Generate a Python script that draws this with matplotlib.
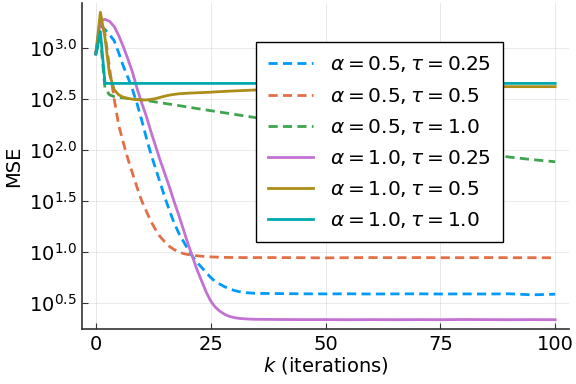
import matplotlib
matplotlib.use("Agg")
import matplotlib.pyplot as plt
import numpy as np

# iteration index (dense early, sparse in the flat tail)
k_vals = list(range(0, 36)) + [40, 45, 50, 55, 60, 65, 70, 75, 80, 85, 90, 95, 100]

# log10(MSE)
a05_t025 = [2.94, 3.22, 3.18, 3.13, 3.07, 2.95, 2.82, 2.71, 2.59, 2.45,
            2.29, 2.12, 1.96, 1.82, 1.68, 1.54, 1.41, 1.29, 1.19, 1.11,
            1.03, 0.96, 0.90, 0.85, 0.80, 0.75, 0.71, 0.685, 0.66, 0.64,
            0.625, 0.613, 0.605, 0.60, 0.597, 0.594,
            0.592, 0.590, 0.589, 0.590, 0.588, 0.589, 0.590, 0.588, 0.589, 0.588, 0.590, 0.580, 0.586]
a05_t05 = [2.94, 3.28, 3.14, 2.80, 2.50, 2.24, 2.07, 1.91, 1.77, 1.63,
           1.50, 1.40, 1.30, 1.22, 1.15, 1.10, 1.055, 1.025, 1.00, 0.985,
           0.975, 0.968, 0.963, 0.958, 0.955, 0.952, 0.95, 0.948, 0.947, 0.946,
           0.946, 0.946, 0.945, 0.945, 0.945, 0.945,
           0.945, 0.944, 0.942, 0.944, 0.945, 0.944, 0.945, 0.944, 0.944, 0.945, 0.944, 0.944, 0.943]
a05_t10 = [2.94, 3.10, 2.60, 2.54, 2.522, 2.515, 2.51, 2.505, 2.50, 2.495,
           2.49, 2.485, 2.478, 2.47, 2.463, 2.456, 2.449, 2.442, 2.435, 2.428,
           2.42, 2.413, 2.406, 2.399, 2.392, 2.385, 2.378, 2.371, 2.364, 2.357,
           2.350, 2.343, 2.336, 2.329, 2.322, 2.315,
           2.28, 2.245, 2.21, 2.175, 2.14, 2.105, 2.07, 2.035, 2.00, 1.965, 1.93, 1.905, 1.884]
a10_t025 = [2.94, 3.27, 3.28, 3.26, 3.21, 3.12, 3.01, 2.89, 2.76, 2.60,
            2.46, 2.33, 2.18, 2.04, 1.90, 1.77, 1.64, 1.50, 1.37, 1.23,
            1.09, 0.96, 0.83, 0.72, 0.61, 0.52, 0.46, 0.42, 0.39, 0.37,
            0.358, 0.350, 0.346, 0.343, 0.341, 0.340,
            0.338, 0.337, 0.337, 0.336, 0.337, 0.336, 0.337, 0.336, 0.338, 0.337, 0.336, 0.337, 0.336]
a10_t05 = [2.94, 3.35, 3.10, 2.74, 2.59, 2.54, 2.516, 2.505, 2.497, 2.493,
           2.49, 2.49, 2.495, 2.503, 2.515, 2.527, 2.537, 2.544, 2.55, 2.553,
           2.556, 2.558, 2.56, 2.562, 2.564, 2.566, 2.569, 2.571, 2.574, 2.576,
           2.578, 2.580, 2.582, 2.584, 2.586, 2.588,
           2.595, 2.60, 2.605, 2.609, 2.612, 2.615, 2.617, 2.618, 2.619, 2.62, 2.62, 2.62, 2.62]
a10_t10 = [2.94, 3.16, 2.652, 2.652, 2.652, 2.652, 2.652, 2.652, 2.652, 2.652,
           2.652, 2.652, 2.652, 2.652, 2.652, 2.652, 2.652, 2.652, 2.652, 2.652,
           2.652, 2.652, 2.652, 2.652, 2.652, 2.652, 2.652, 2.652, 2.652, 2.652,
           2.652, 2.652, 2.652, 2.652, 2.652, 2.652,
           2.652, 2.652, 2.652, 2.652, 2.652, 2.652, 2.652, 2.652, 2.652, 2.652, 2.652, 2.652, 2.652]

series = [
    (a05_t025, r"$\alpha = 0.5, \tau = 0.25$", "#009AFA", "dash"),
    (a05_t05, r"$\alpha = 0.5, \tau = 0.5$", "#E36F47", "dash"),
    (a05_t10, r"$\alpha = 0.5, \tau = 1.0$", "#3EA44E", "dash"),
    (a10_t025, r"$\alpha = 1.0, \tau = 0.25$", "#C371D2", "solid"),
    (a10_t05, r"$\alpha = 1.0, \tau = 0.5$", "#AC8D18", "solid"),
    (a10_t10, r"$\alpha = 1.0, \tau = 1.0$", "#00A9AD", "solid"),
]

ytick_exps = [0.5, 1.0, 1.5, 2.0, 2.5, 3.0]
ytick_labels = [r"$10^{0.5}$", r"$10^{1.0}$", r"$10^{1.5}$", r"$10^{2.0}$", r"$10^{2.5}$", r"$10^{3.0}$"]
xticks = [0, 25, 50, 75, 100]

plt.rcParams["font.family"] = ["DejaVu Sans"]
plt.rcParams["mathtext.fontset"] = "dejavusans"

fig = plt.figure(figsize=(5.76, 3.84), dpi=100)
ax = fig.add_axes([82/576, 1-329/384, (569-82)/576, (329-3)/384])

for vals, lab, col, ls in series:
    y = [10 ** v for v in vals]
    if ls == "dash":
        ax.plot(k_vals, y, color=col, lw=2.0, linestyle=(0, (3.3, 1.9)), label=lab)
    else:
        ax.plot(k_vals, y, color=col, lw=2.0, label=lab)

ax.set_yscale("log")
ax.set_xlim(-3, 103)
ax.set_ylim(10 ** 0.245, 10 ** 3.44)
ax.yaxis.set_major_locator(matplotlib.ticker.FixedLocator([10 ** e for e in ytick_exps]))
ax.yaxis.set_major_formatter(matplotlib.ticker.FixedFormatter(ytick_labels))
ax.yaxis.set_minor_locator(matplotlib.ticker.NullLocator())
ax.set_xticks(xticks)
ax.set_xticklabels([str(t) for t in xticks])

ax.grid(True, color="black", alpha=0.1, lw=0.6)
ax.set_axisbelow(True)
for s in ["top", "right"]:
    ax.spines[s].set_visible(False)
for s in ["left", "bottom"]:
    ax.spines[s].set_color("#333333")
    ax.spines[s].set_linewidth(1.2)
ax.tick_params(direction="in", length=4, width=0.8, color="#333333", labelsize=14, pad=4)

ax.set_xlabel(r"$k$ (iterations)", fontsize=14, labelpad=1)
ax.set_ylabel("MSE", fontsize=14, labelpad=4)

leg = ax.legend(loc="upper left", bbox_to_anchor=(256/576, 1-42/384), bbox_transform=fig.transFigure,
                borderaxespad=0, fontsize=14.5, frameon=True, fancybox=False, handlelength=2.2,
                handletextpad=0.85, labelspacing=0.55, borderpad=0.62)
leg.get_frame().set_edgecolor("black")
leg.get_frame().set_linewidth(1.0)
leg.get_frame().set_alpha(1)

fig.savefig("out.png", dpi=100)
